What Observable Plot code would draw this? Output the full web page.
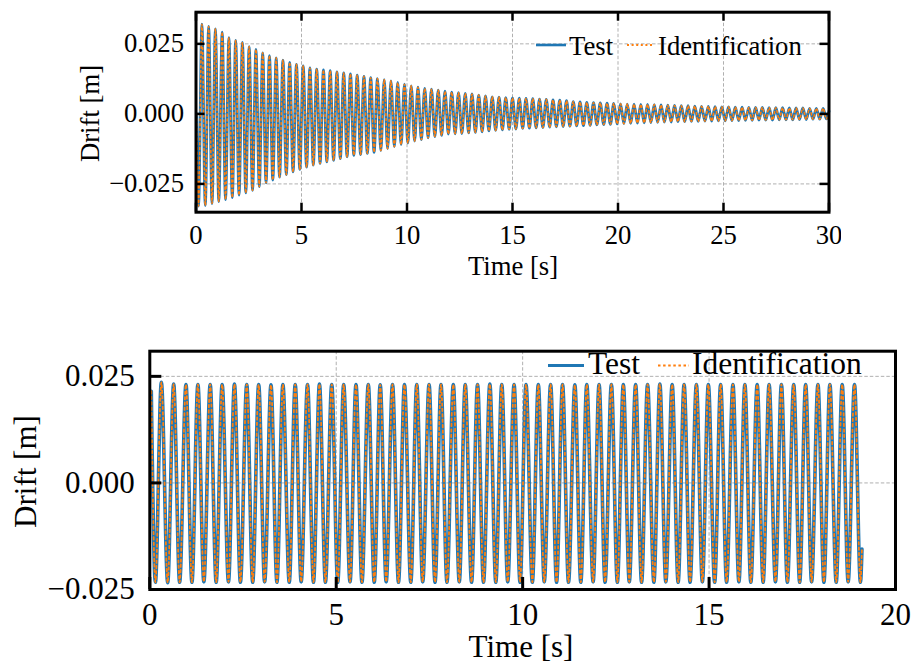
<!DOCTYPE html>
<html><head><meta charset="utf-8">
<script src="https://cdn.jsdelivr.net/npm/d3@7"></script>
<script src="https://cdn.jsdelivr.net/npm/@observablehq/plot@0.6"></script>
<style>
html,body{margin:0;padding:0;background:#fff;width:913px;height:664px;overflow:hidden;}
#top{position:absolute;left:0;top:0;width:841px;height:282px;overflow:hidden;}
#bot{position:absolute;left:0;top:300px;width:913px;height:364px;overflow:hidden;}
#top svg,#bot svg{position:absolute;left:0;top:0;max-width:none !important;}
</style></head><body>
<div id="top"></div><div id="bot"></div>
<script>
// ---------- DATA (extrema of the oscillation) ----------
const seriesNames = ["Test", "Identification"];

// Top panel: free vibration, extrema times [s]
const topTime = [0.03,
0.12,0.28,0.44,0.60,0.76,0.92,1.08,1.24,1.40,1.56,
1.72,1.88,2.04,2.20,2.36,2.52,2.68,2.84,3.00,3.16,
3.32,3.48,3.64,3.80,3.96,4.12,4.28,4.44,4.60,4.76,
4.92,5.08,5.24,5.40,5.56,5.72,5.88,6.04,6.20,6.36,
6.52,6.68,6.84,7.00,7.16,7.32,7.48,7.64,7.80,7.96,
8.12,8.28,8.44,8.60,8.76,8.92,9.08,9.24,9.40,9.56,
9.72,9.88,10.04,10.20,10.36,10.52,10.68,10.84,11.00,11.16,
11.32,11.48,11.64,11.80,11.96,12.12,12.28,12.44,12.60,12.76,
12.92,13.08,13.24,13.40,13.56,13.72,13.88,14.04,14.20,14.36,
14.52,14.68,14.84,15.00,15.16,15.32,15.48,15.64,15.80,15.96,
16.12,16.28,16.44,16.60,16.76,16.92,17.08,17.24,17.40,17.56,
17.72,17.88,18.04,18.20,18.36,18.52,18.68,18.84,19.00,19.16,
19.32,19.48,19.64,19.80,19.96,20.12,20.28,20.44,20.60,20.76,
20.92,21.08,21.24,21.40,21.56,21.72,21.88,22.04,22.20,22.36,
22.52,22.68,22.84,23.00,23.16,23.32,23.48,23.64,23.80,23.96,
24.12,24.28,24.44,24.60,24.76,24.92,25.08,25.24,25.40,25.56,
25.72,25.88,26.04,26.20,26.36,26.52,26.68,26.84,27.00,27.16,
27.32,27.48,27.64,27.80,27.96,28.12,28.28,28.44,28.60,28.76,
28.92,29.08,29.24,29.40,29.56,29.72,29.88,
30.00];
// Top panel: Test drift at those times [m]
const topTest = [0.0000,
-0.0329,0.0320,-0.0327,0.0312,-0.0320,0.0303,-0.0313,0.0292,-0.0306,0.0272,
-0.0299,0.0262,-0.0290,0.0255,-0.0282,0.0240,-0.0273,0.0230,-0.0260,0.0218,
-0.0246,0.0208,-0.0236,0.0200,-0.0226,0.0192,-0.0217,0.0184,-0.0207,0.0177,
-0.0198,0.0171,-0.0190,0.0164,-0.0183,0.0160,-0.0177,0.0157,-0.0171,0.0154,
-0.0166,0.0150,-0.0160,0.0146,-0.0153,0.0143,-0.0148,0.0138,-0.0145,0.0134,
-0.0141,0.0129,-0.0137,0.0126,-0.0131,0.0122,-0.0124,0.0118,-0.0117,0.0112,
-0.0110,0.0106,-0.0104,0.0100,-0.0097,0.0095,-0.0092,0.0091,-0.0086,0.0088,
-0.0081,0.0085,-0.0077,0.0081,-0.0072,0.0078,-0.0071,0.0076,-0.0070,0.0073,
-0.0068,0.0071,-0.0066,0.0067,-0.0064,0.0064,-0.0061,0.0061,-0.0059,0.0060,
-0.0057,0.0058,-0.0055,0.0057,-0.0054,0.0056,-0.0052,0.0055,-0.0051,0.0054,
-0.0050,0.0053,-0.0049,0.0052,-0.0047,0.0050,-0.0046,0.0049,-0.0045,0.0047,
-0.0044,0.0044,-0.0043,0.0043,-0.0042,0.0041,-0.0041,0.0040,-0.0039,0.0039,
-0.0038,0.0038,-0.0037,0.0037,-0.0036,0.0036,-0.0035,0.0035,-0.0034,0.0035,
-0.0033,0.0034,-0.0032,0.0034,-0.0031,0.0033,-0.0030,0.0032,-0.0029,0.0031,
-0.0029,0.0030,-0.0028,0.0029,-0.0028,0.0029,-0.0027,0.0028,-0.0027,0.0027,
-0.0026,0.0027,-0.0026,0.0026,-0.0025,0.0025,-0.0025,0.0025,-0.0024,0.0024,
-0.0024,0.0024,-0.0023,0.0023,-0.0023,0.0023,-0.0022,0.0023,-0.0022,0.0022,
-0.0022,0.0022,-0.0021,0.0022,-0.0021,0.0021,-0.0021,0.0021,-0.0020,0.0021,
-0.0020,0.0020,-0.0019,0.0020,-0.0019,0.0020,-0.0018,
0.0010];
// Identification curve overlaps Test within the picture's resolution
const topIdent = topTest;

// Bottom panel: forced vibration, extrema times [s]
const botTime = [0.04,
0.15,0.31,0.48,0.64,0.80,0.97,1.13,1.29,1.45,1.62,
1.78,1.94,2.11,2.27,2.43,2.60,2.76,2.92,3.08,3.25,
3.41,3.57,3.74,3.90,4.06,4.23,4.39,4.55,4.71,4.88,
5.04,5.20,5.37,5.53,5.69,5.86,6.02,6.18,6.34,6.51,
6.67,6.83,7.00,7.16,7.32,7.49,7.65,7.81,7.97,8.14,
8.30,8.46,8.63,8.79,8.95,9.12,9.28,9.44,9.60,9.77,
9.93,10.09,10.26,10.42,10.58,10.75,10.91,11.07,11.23,11.40,
11.56,11.72,11.89,12.05,12.21,12.38,12.54,12.70,12.86,13.03,
13.19,13.35,13.52,13.68,13.84,14.01,14.17,14.33,14.49,14.66,
14.82,14.98,15.15,15.31,15.47,15.64,15.80,15.96,16.12,16.29,
16.45,16.61,16.78,16.94,17.10,17.27,17.43,17.59,17.75,17.92,
18.08,18.24,18.41,18.57,18.73,18.90,19.06,
19.10];
// Bottom panel: Test drift at those times [m]
const botTest = [0.0215,
-0.0233,0.0236,-0.0234,0.0232,-0.0233,0.0231,-0.0233,0.0231,-0.0232,0.0231,
-0.0233,0.0231,-0.0232,0.0232,-0.0233,0.0231,-0.0233,0.0231,-0.0232,0.0230,
-0.0233,0.0231,-0.0233,0.0231,-0.0232,0.0231,-0.0233,0.0232,-0.0233,0.0231,
-0.0233,0.0231,-0.0232,0.0231,-0.0233,0.0231,-0.0233,0.0230,-0.0232,0.0231,
-0.0233,0.0231,-0.0233,0.0231,-0.0232,0.0231,-0.0233,0.0231,-0.0233,0.0231,
-0.0232,0.0231,-0.0233,0.0231,-0.0233,0.0232,-0.0233,0.0231,-0.0232,0.0231,
-0.0233,0.0231,-0.0233,0.0231,-0.0232,0.0231,-0.0233,0.0231,-0.0233,0.0230,
-0.0233,0.0231,-0.0232,0.0231,-0.0233,0.0231,-0.0233,0.0231,-0.0232,0.0231,
-0.0233,0.0231,-0.0233,0.0232,-0.0232,0.0231,-0.0233,0.0231,-0.0233,0.0231,
-0.0232,0.0231,-0.0233,0.0231,-0.0233,0.0231,-0.0232,0.0231,-0.0233,0.0231,
-0.0233,0.0231,-0.0232,0.0231,-0.0233,0.0231,-0.0233,0.0231,-0.0232,0.0231,
-0.0233,0.0231,-0.0233,0.0231,-0.0232,0.0231,-0.0233,
-0.0155];
const botIdent = botTest;

// Tick values
const topXTicks = [0, 5, 10, 15, 20, 25, 30];
const botXTicks = [0, 5, 10, 15, 20];
const yTicks = [-0.025, 0, 0.025];

// ---------- STYLE ----------
const BLUE = "#1f77b4", ORANGE = "#ff7f0e", GRID = "#b0b0b0";
const FONT = "'Liberation Serif','Times New Roman',serif";

function zip(t, v) {
  const n = Math.min(t.length, v.length);
  const out = [];
  for (let i = 0; i < n; i++) out.push({t: t[i], v: v[i]});
  return out;
}

function panel(cfg) {
  const W = cfg.width, H = cfg.height;
  const pw = W - cfg.ml - cfg.mr, ph = H - cfg.mt - cfg.mb;
  const tl = cfg.tickLen;
  const marks = [
    Plot.gridX(cfg.xTicks, {stroke: GRID, strokeOpacity: 1, strokeWidth: 1, strokeDasharray: "3.5,2"}),
    Plot.gridY(yTicks, {stroke: GRID, strokeOpacity: 1, strokeWidth: 1, strokeDasharray: "3.5,2"}),
    Plot.line(zip(cfg.time, cfg.test), {x: "t", y: "v", stroke: BLUE, strokeWidth: cfg.lw, curve: "monotone-x"}),
    Plot.line(zip(cfg.time, cfg.ident), {x: "t", y: "v", stroke: ORANGE, strokeWidth: cfg.lw2, strokeDasharray: cfg.dash, curve: "monotone-x"}),
    // inward tick marks
    Plot.ruleX(cfg.xTicks, {x: d => d, insetTop: ph - tl, stroke: "black", strokeWidth: cfg.tw}),
    Plot.ruleY(yTicks, {y: d => d, insetRight: pw - tl, stroke: "black", strokeWidth: cfg.tw})
  ];
  if (cfg.allSides) {
    marks.push(Plot.ruleX(cfg.xTicks, {x: d => d, insetBottom: ph - tl, stroke: "black", strokeWidth: cfg.tw}));
    marks.push(Plot.ruleY(yTicks, {y: d => d, insetLeft: pw - tl, stroke: "black", strokeWidth: cfg.tw}));
  }
  marks.push(
    Plot.frame({stroke: "black", strokeWidth: cfg.fw}),
    Plot.axisX(cfg.xTicks, {tickSize: 0, tickPadding: cfg.xpad, tickFormat: d => String(d), fontSize: cfg.fs, label: null}),
    Plot.axisY(yTicks, {tickSize: 0, tickPadding: cfg.ypad, tickFormat: d3.format(".3f"), fontSize: cfg.fs, label: null})
  );
  return Plot.plot({
    width: W, height: H,
    marginLeft: cfg.ml, marginRight: cfg.mr, marginTop: cfg.mt, marginBottom: cfg.mb,
    style: {fontFamily: FONT, fontSize: cfg.fs + "px", color: "#000", background: "transparent", overflow: "visible", maxWidth: "none"},
    x: {domain: cfg.xDomain, label: null},
    y: {domain: cfg.yDomain, label: null},
    marks
  });
}

function overlay(w, h, items) {
  const ns = "http://www.w3.org/2000/svg";
  const svg = document.createElementNS(ns, "svg");
  svg.setAttribute("width", w); svg.setAttribute("height", h);
  svg.style.fontFamily = FONT;
  for (const it of items) {
    const el = document.createElementNS(ns, it.tag);
    for (const k in it.attrs) el.setAttribute(k, it.attrs[k]);
    if (it.text) el.textContent = it.text;
    svg.appendChild(el);
  }
  return svg;
}

// ---------- TOP PANEL ----------
const topDiv = document.getElementById("top");
topDiv.appendChild(panel({
  width: 913, height: 282, ml: 195.5, mr: 913 - 828.5, mt: 11.7, mb: 282 - 211.7,
  xDomain: [0, 30], yDomain: [-0.0351, 0.0363],
  time: topTime, test: topTest, ident: topIdent,
  xTicks: topXTicks, fs: 26.7, xpad: 13, ypad: 12,
  lw: 2.8, lw2: 1.6, dash: "2,2.8", tickLen: 9, tw: 2.5, fw: 3, allSides: true
}));
topDiv.appendChild(overlay(913, 282, [
  {tag: "text", attrs: {transform: "translate(99,113.5) rotate(-90)", "text-anchor": "middle", "font-size": 26.7}, text: "Drift [m]"},
  {tag: "text", attrs: {x: 513, y: 275, "text-anchor": "middle", "font-size": 26.7}, text: "Time [s]"},
  {tag: "line", attrs: {x1: 536, x2: 566, y1: 45, y2: 45, stroke: BLUE, "stroke-width": 2.6}},
  {tag: "text", attrs: {x: 569, y: 55, "font-size": 26.7}, text: seriesNames[0]},
  {tag: "line", attrs: {x1: 627, x2: 654, y1: 45, y2: 45, stroke: ORANGE, "stroke-width": 2, "stroke-dasharray": "2,2.6"}},
  {tag: "text", attrs: {x: 658, y: 55, "font-size": 26.7}, text: seriesNames[1]}
]));

// ---------- BOTTOM PANEL (svg origin at page y=300) ----------
const botDiv = document.getElementById("bot");
botDiv.appendChild(panel({
  width: 913, height: 364, ml: 149.3, mr: 913 - 895, mt: 50.7, mb: 364 - 289,
  xDomain: [0, 20], yDomain: [-0.025, 0.0309],
  time: botTime, test: botTest, ident: botIdent,
  xTicks: botXTicks, fs: 31, xpad: 13, ypad: 15,
  lw: 3.6, lw2: 1.8, dash: "2.4,3", tickLen: 12, tw: 3, fw: 3, allSides: false
}));
botDiv.appendChild(overlay(913, 364, [
  {tag: "text", attrs: {transform: "translate(36,171.5) rotate(-90)", "text-anchor": "middle", "font-size": 31}, text: "Drift [m]"},
  {tag: "text", attrs: {x: 521, y: 357, "text-anchor": "middle", "font-size": 31}, text: "Time [s]"},
  {tag: "line", attrs: {x1: 548, x2: 584, y1: 65.5, y2: 65.5, stroke: BLUE, "stroke-width": 3}},
  {tag: "text", attrs: {x: 588, y: 74, "font-size": 31.5}, text: seriesNames[0]},
  {tag: "line", attrs: {x1: 658, x2: 689, y1: 65.5, y2: 65.5, stroke: ORANGE, "stroke-width": 2.2, "stroke-dasharray": "2.5,2.6"}},
  {tag: "text", attrs: {x: 692, y: 74, "font-size": 31.5}, text: seriesNames[1]}
]));
</script>
</body></html>
